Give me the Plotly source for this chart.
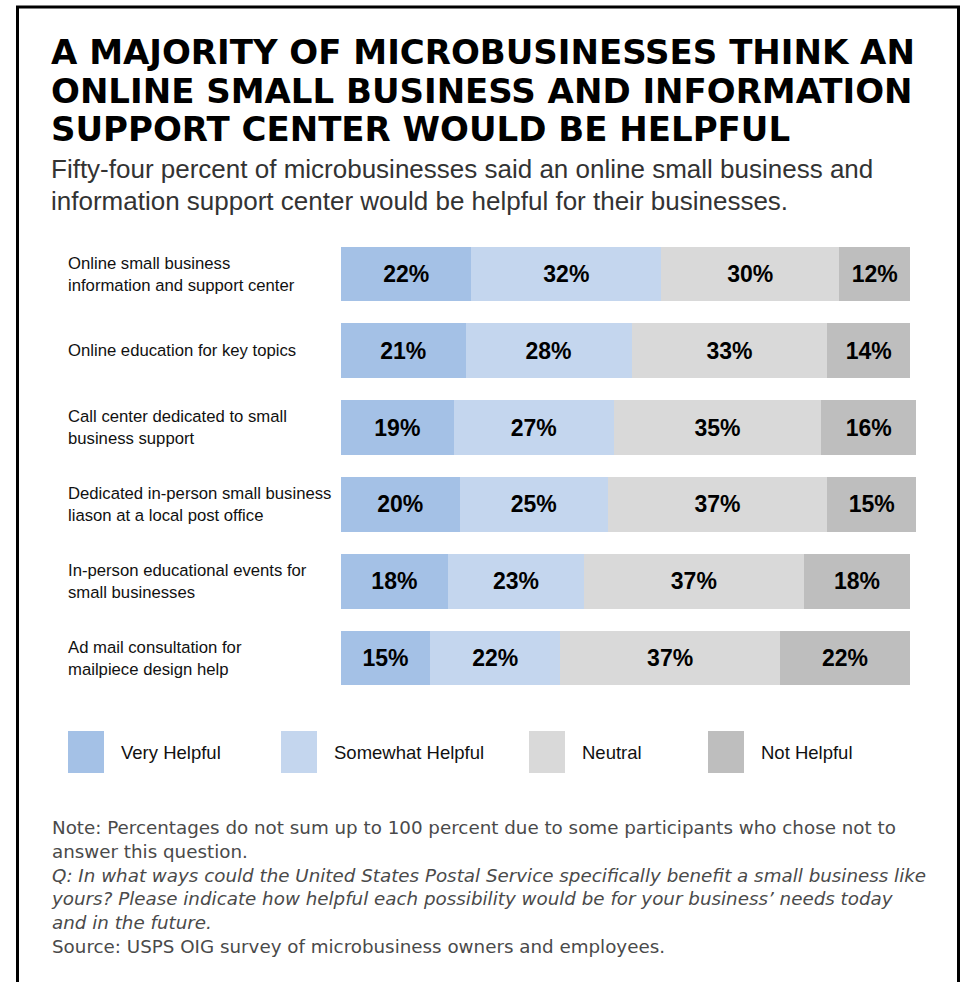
import plotly.graph_objects as go

# ---------------- data ----------------
categories = [
    "Online small business information and support center",
    "Online education for key topics",
    "Call center dedicated to small business support",
    "Dedicated in-person small business liason at a local post office",
    "In-person educational events for small businesses",
    "Ad mail consultation for mailpiece design help",
]
category_labels = [
    "Online small business<br>information and support center",
    "Online education for key topics",
    "Call center dedicated to small<br>business support",
    "Dedicated in-person small business<br>liason at a local post office",
    "In-person educational events for<br>small businesses",
    "Ad mail consultation for<br>mailpiece design help",
]
series_names = ["Very Helpful", "Somewhat Helpful", "Neutral", "Not Helpful"]
very_helpful = [22, 21, 19, 20, 18, 15]
somewhat_helpful = [32, 28, 27, 25, 23, 22]
neutral = [30, 33, 35, 37, 37, 37]
not_helpful = [12, 14, 16, 15, 18, 22]
series_values = [very_helpful, somewhat_helpful, neutral, not_helpful]

title_lines = [
    "A MAJORITY OF MICROBUSINESSES THINK AN",
    "ONLINE SMALL BUSINESS AND INFORMATION",
    "SUPPORT CENTER WOULD BE HELPFUL",
]
subtitle_lines = [
    "Fifty-four percent of microbusinesses said an online small business and",
    "information support center would be helpful for their businesses.",
]
note_lines = [
    "Note: Percentages do not sum up to 100 percent due to some participants who chose not to",
    "answer this question.",
    "<i>Q: In what ways could the United States Postal Service specifically benefit a small business like</i>",
    "<i>yours? Please indicate how helpful each possibility would be for your business\u2019 needs today</i>",
    "<i>and in the future.</i>",
    "Source: USPS OIG survey of microbusiness owners and employees.",
]

# ---------------- style ----------------
W, H = 965, 982
colors = ["#A4C1E6", "#C4D6EE", "#D9D9D9", "#BEBEBE"]
SANS = "Liberation Sans, Arial, sans-serif"


def px_x(p):
    return p / W


def px_y(p):
    return 1 - p / H


fig = go.Figure()
for name, vals, col in zip(series_names, series_values, colors):
    fig.add_trace(go.Bar(
        name=name,
        orientation="h",
        y=categories,
        x=vals,
        marker=dict(color=col, line=dict(width=0)),
        text=[f"{v}%" for v in vals],
        textposition="inside",
        insidetextanchor="middle",
        constraintext="none",
        textangle=0,
        textfont=dict(family=SANS, size=23, color="#000000", weight="bold"),
        showlegend=False,
        hoverinfo="skip",
    ))

annotations = []
# category labels (left aligned)
for cat, lab in zip(categories, category_labels):
    annotations.append(dict(
        x=px_x(66), xref="paper", xanchor="left",
        y=cat, yref="y", yanchor="middle",
        text=lab, align="left", showarrow=False,
        font=dict(family=SANS, size=16.7, color="#111111"),
    ))

# title
title_y = [52, 91.5, 129]
for line, yy in zip(title_lines, title_y):
    annotations.append(dict(
        x=px_x(49), xref="paper", xanchor="left",
        y=px_y(yy), yref="paper", yanchor="middle",
        text=line, showarrow=False, align="left",
        font=dict(family="DejaVu Sans", size=34, color="#000000", weight="bold"),
    ))

sub_y = [169, 201]
for line, yy in zip(subtitle_lines, sub_y):
    annotations.append(dict(
        x=px_x(49), xref="paper", xanchor="left",
        y=px_y(yy), yref="paper", yanchor="middle",
        text=line, showarrow=False, align="left",
        font=dict(family=SANS, size=26, color="#333333"),
    ))

# notes as one block (line spacing ~24 px)
annotations.append(dict(
    x=px_x(49), xref="paper", xanchor="left",
    y=px_y(887), yref="paper", yanchor="middle",
    text="<br>".join(note_lines), showarrow=False, align="left",
    font=dict(family="DejaVu Sans", size=18.3, color="#4a4a4a"),
))

# legend (custom large swatches)
shapes = []
legend_swatch_x = [68, 281, 529, 708]
for name, col, lx in zip(series_names, colors, legend_swatch_x):
    shapes.append(dict(
        type="rect", xref="paper", yref="paper",
        x0=px_x(lx), x1=px_x(lx + 36), y0=px_y(773), y1=px_y(731),
        fillcolor=col, line=dict(width=0),
    ))
    annotations.append(dict(
        x=px_x(lx + 51), xref="paper", xanchor="left",
        y=px_y(752), yref="paper", yanchor="middle",
        text=name, showarrow=False,
        font=dict(family=SANS, size=18.5, color="#111111"),
    ))

# outer border (open at bottom)
shapes.append(dict(
    type="path", xref="paper", yref="paper",
    path=f"M {px_x(17.5)} {px_y(H + 10)} L {px_x(17.5)} {px_y(7)} L {px_x(958.5)} {px_y(7)} L {px_x(958.5)} {px_y(H + 10)}",
    line=dict(color="#000000", width=3),
))

fig.update_layout(
    width=W, height=H,
    margin=dict(l=0, r=0, t=0, b=0),
    paper_bgcolor="white", plot_bgcolor="white",
    barmode="stack", bargap=0.284,
    xaxis=dict(range=[0, 100], domain=[px_x(341), px_x(934)], visible=False, fixedrange=True),
    yaxis=dict(categoryorder="array", categoryarray=categories, range=[5.5, -0.5],
               domain=[px_y(696.4), px_y(235.6)], visible=False, fixedrange=True),
    annotations=annotations,
    shapes=shapes,
    showlegend=False,
)

fig.write_html("out.html")
